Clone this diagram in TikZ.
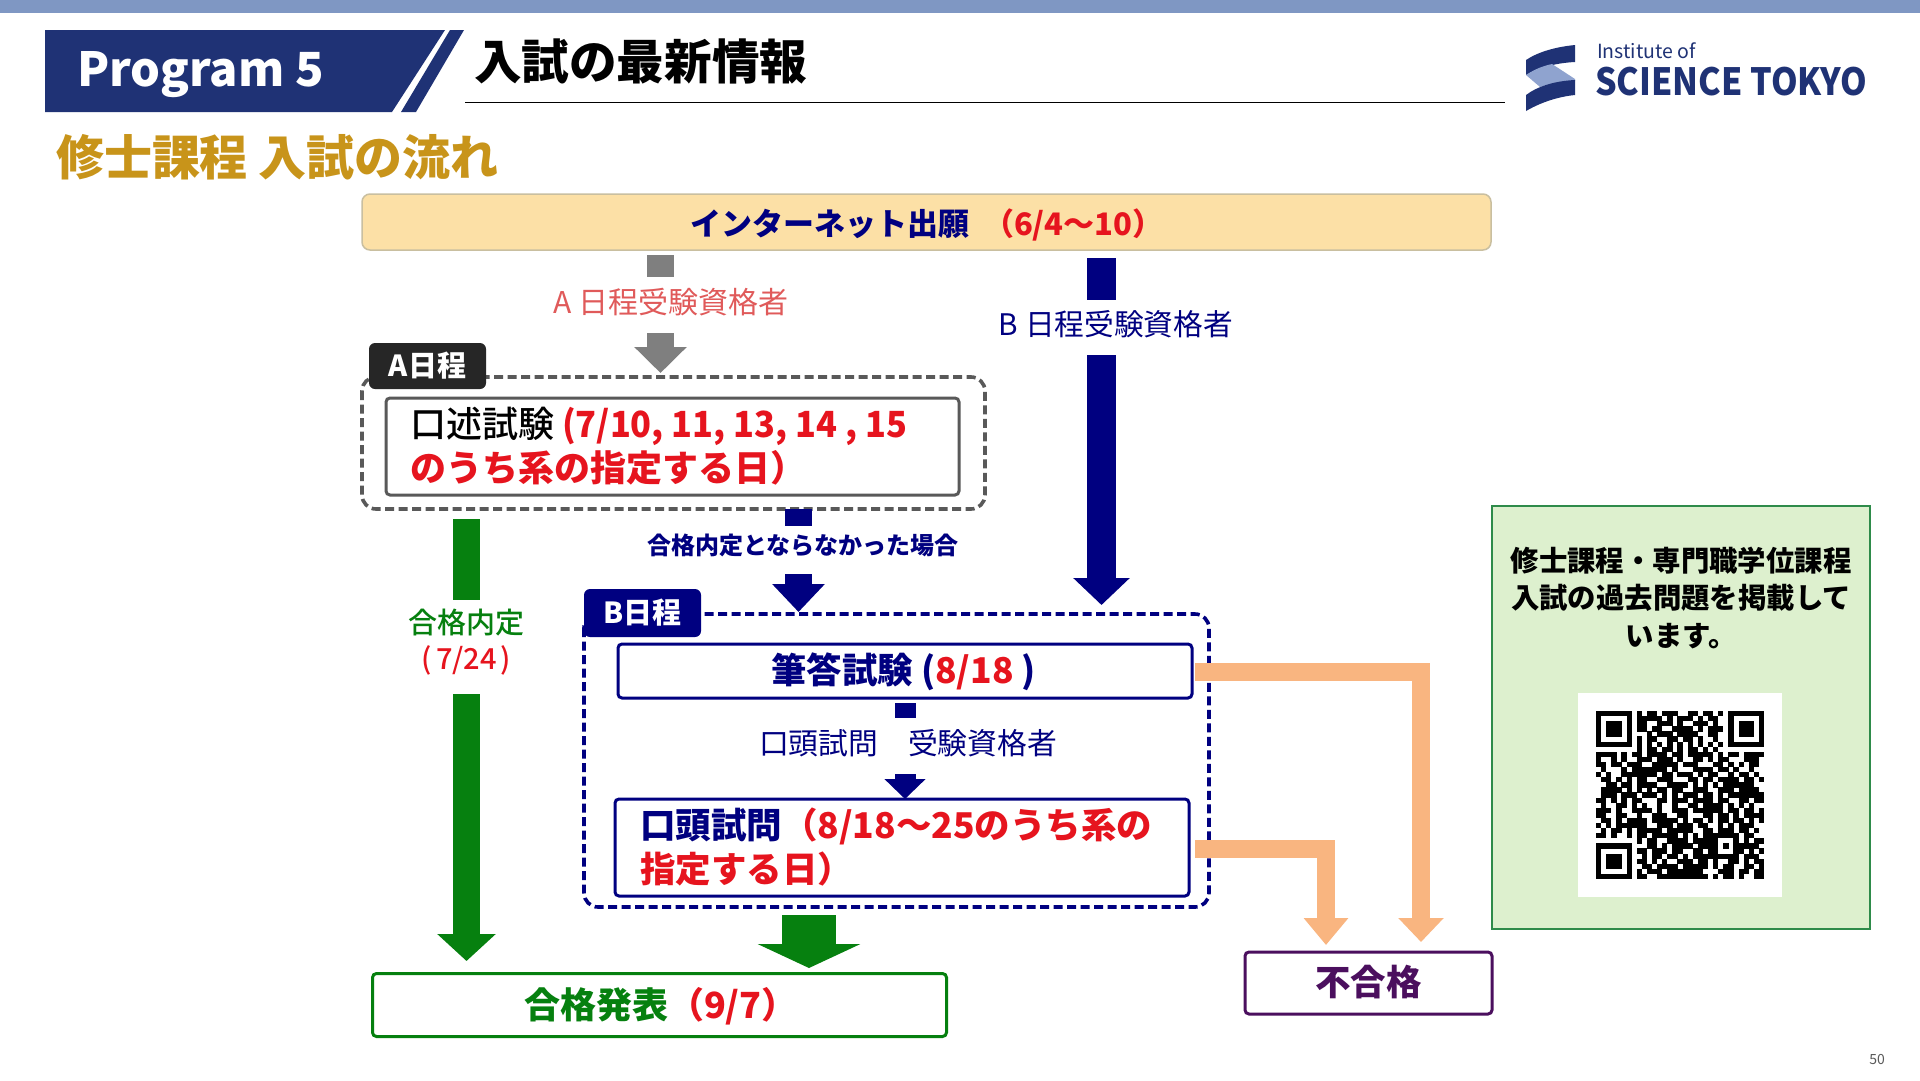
\documentclass[tikz,border=0pt]{standalone}
\usepackage{fontspec}
\usetikzlibrary{arrows.meta}
\setmainfont{Noto Sans CJK JP}
\newfontfamily\medf{Noto Sans CJK JP Medium}
\definecolor{navyc}{HTML}{000080}
\definecolor{redc}{HTML}{E6141E}
\definecolor{greenc}{HTML}{06800F}
\definecolor{grayc}{HTML}{7F7F7F}
\definecolor{dgray}{HTML}{595959}
\definecolor{orangec}{HTML}{F9B580}
\definecolor{purplec}{HTML}{4B0F5E}
\definecolor{bannerc}{HTML}{1F3275}
\definecolor{barc}{HTML}{7F97C3}
\definecolor{goldc}{HTML}{C8941A}
\definecolor{panelc}{HTML}{DDF0CE}
\definecolor{panelb}{HTML}{2E8B4A}
\definecolor{lightlogo}{HTML}{8FA3CF}
\definecolor{topfill}{HTML}{FCE0A6}
\definecolor{topline}{HTML}{C9BFA0}
\definecolor{tagblack}{HTML}{262626}
\definecolor{alabc}{HTML}{E05A5A}
\newcommand{\fs}[1]{\fontsize{#1}{#1}\selectfont}
\newcount\qrc \newcount\qrr
\def\qrscan#1{\ifx#1\relax\else\if#1x\fill[black] ({1596+\the\qrc*5.09},{711+\the\qrr*5.09}) rectangle +(5.3,5.3);\fi\global\advance\qrc by 1 \expandafter\qrscan\fi}
\def\qrrow#1{\global\qrc=0 \qrscan#1\relax\global\advance\qrr by 1 }
\tikzset{
  lbl/.style={inner sep=0pt,outer sep=0pt,anchor=base},
  lblw/.style={inner sep=0pt,outer sep=0pt,anchor=base west},
  boxnode/.style={draw,rounded corners=4pt,fill=white,inner sep=0pt,outer sep=0pt,line width=3pt},
  groupbox/.style={rounded corners=14pt,line width=3.6pt,dash pattern=on 9pt off 4.5pt,inner sep=0pt,outer sep=0pt},
  tagnode/.style={rounded corners=6pt,inner sep=0pt,outer sep=0pt,text=white,font=\bfseries\fs{29}},
  graybar/.style={line width=27pt,draw=grayc},
  navybar/.style={line width=27pt,draw=navyc},
  greenbar/.style={line width=27pt,draw=greenc},
  orangebar/.style={line width=18pt,draw=orangec,line join=miter},
}
\begin{document}
\begin{tikzpicture}[x=1pt,y=-1pt]
\useasboundingbox (0,0) rectangle (1920,1080);
\fill[white] (0,0) rectangle (1920,1080);
\fill[barc] (0,0) rectangle (1920,13);
% banner
\fill[bannerc] (45,30) -- (445,30) -- (392,112) -- (45,112) -- cycle;
\fill[bannerc] (450,30) -- (464,30) -- (416,112) -- (401,112) -- cycle;
\node[lblw,text=white,font=\bfseries\fs{47}] (prog) at (77,86) {Program 5};
\node[lblw,font=\bfseries\fs{47.6}] (title) at (474,79) {入試の最新情報};
\draw[line width=0.9pt] (465,102) -- (1505,102);
\node[lblw,text=goldc,font=\bfseries\fs{48}] (sub) at (56,175) {修士課程 入試の流れ};
% logo
\fill[bannerc] (1575,45) .. controls (1555,47) and (1538,52) .. (1526,60) -- (1526,75) .. controls (1538,68) and (1555,63) .. (1575,62) -- cycle;
\fill[lightlogo] (1526,75) .. controls (1535,69) and (1543,66) .. (1552,64) -- (1575,79) -- (1575,81) .. controls (1560,82) and (1548,84) .. (1540,87) -- cycle;
\fill[bannerc] (1575,80) .. controls (1555,81) and (1538,86) .. (1526,95) -- (1526,111) .. controls (1538,104) and (1555,97) .. (1575,95) -- cycle;
\node[lblw,text=bannerc,font=\fs{19.5}] (inst) at (1597,58) {Institute of};
\node[lblw,text=bannerc,font=\bfseries\fs{37.5}] (sci) at (1595,95) {\scalebox{0.906}[1]{SCIENCE TOKYO}};
\node[lbl,text=dgray,font=\fs{14}] (pg) at (1877,1064) {50};
% top box
\node[draw=topline,fill=topfill,line width=1.5pt,rounded corners=8pt,minimum width=1129pt,minimum height=56pt,inner sep=0pt,outer sep=0pt] (net) at (926.5,222) {};
\node[lblw,font=\bfseries\fs{31}] (nett) at (690,235) {\textcolor{navyc}{インターネット出願}\hspace{14pt}\textcolor{redc}{（6/4～10）}};
% A stage
\coordinate (a0) at (660.5,255);
\coordinate (a1) at (660.5,277);
\coordinate (a2) at (660.5,333);
\coordinate (a3) at (660.5,373);
\draw[graybar] (a0) -- (a1);
\node[lbl,text=alabc,font=\fs{30}] (alab) at (671,313) {A 日程受験資格者};
\draw[graybar,-{Triangle[width=51pt,length=26pt]}] (a2) -- (a3);
\draw[groupbox,draw=dgray,fill=white] (362,377) rectangle (985,509);
\node[boxnode,draw=dgray,minimum width=573pt,minimum height=97pt] (oral) at (672.5,446.5) {};
\node[lblw,font=\medf\fs{36}] (o1) at (410,437) {口述試験 \textcolor{redc}{\bfseries\scalebox{0.955}[1]{(7/10, 11, 13, 14 , 15}}};
\node[lblw,text=redc,font=\bfseries\fs{36}] (o2) at (410,481) {のうち系の指定する日）};
\node[tagnode,fill=tagblack,minimum width=117pt,minimum height=46pt] (atag) at (427.5,366) {A日程};
% A -> B navy
\coordinate (n0) at (798.5,509);
\coordinate (n1) at (798.5,526);
\coordinate (n2) at (798.5,574);
\coordinate (n3) at (798.5,612);
\draw[navybar] (n0) -- (n1);
\node[lbl,text=navyc,font=\bfseries\fs{24}] (nlab) at (803,554) {合格内定とならなかった場合};
\draw[navybar,-{Triangle[width=51pt,length=28pt]}] (n2) -- (n3);
% B right
\coordinate (b0) at (1101.5,258);
\coordinate (b1) at (1101.5,300);
\coordinate (b2) at (1101.5,355);
\coordinate (b3) at (1101.5,605);
\draw[navybar,line width=29pt] (b0) -- (b1);
\node[lbl,text=navyc,font=\fs{29.7}] (blab) at (1116,335) {B 日程受験資格者};
\draw[navybar,line width=29pt,-{Triangle[width=55pt,length=27pt]}] (b2) -- (b3);
% green left
\coordinate (g0) at (466.5,519);
\coordinate (g1) at (466.5,600);
\coordinate (g2) at (466.5,694);
\coordinate (g3) at (466.5,961);
\draw[greenbar] (g0) -- (g1);
\node[lbl,text=greenc,font=\medf\fs{29}] (glab) at (466.5,633) {合格内定};
\node[lbl,text=redc,font=\medf\fs{29}] (glab2) at (466.5,669) {(\hspace{4pt}7/24\hspace{4pt})};
\draw[greenbar,-{Triangle[width=57pt,length=27pt]}] (g2) -- (g3);
% B group
\draw[groupbox,draw=navyc] (584,614) rectangle (1209,907);
\node[boxnode,draw=navyc,minimum width=574pt,minimum height=54pt] (write) at (905,671) {};
\node[lblw,text=navyc,font=\bfseries\fs{35.5}] (wt) at (771,683) {筆答試験 (\textcolor{redc}{8/18} )};
\node[boxnode,draw=navyc,minimum width=574pt,minimum height=97pt] (oq) at (902,847.5) {};
\node[lblw,font=\medf\fs{35.5}] (q1) at (640,838) {\textcolor{navyc}{\bfseries 口頭試問}\textcolor{redc}{\bfseries（8/18～25のうち系の}};
\node[lblw,text=redc,font=\bfseries\fs{35.5}] (q2) at (640,882) {指定する日）};
\node[tagnode,fill=navyc,minimum width=117pt,minimum height=48pt] (btag) at (642.5,613) {B日程};
\coordinate (m0) at (905,703);
\coordinate (m1) at (905,718);
\coordinate (m2) at (905,774);
\draw[navybar,line width=21pt] (m0) -- (m1);
\node[lbl,text=navyc,font=\fs{29.8}] (mlab) at (908,754) {口頭試問　受験資格者};
\draw[navybar,line width=21pt,-{Triangle[width=40pt,length=20pt]}] (m2) -- (m2 |- oq.north);
% green result
\node[boxnode,draw=greenc,minimum width=574pt,minimum height=63pt] (res) at (659.5,1005) {};
\node[lblw,font=\bfseries\fs{36}] (rest) at (524,1018) {\textcolor{greenc}{合格発表}\textcolor{redc}{（9/7）}};
\coordinate (r0) at (809,915);
\coordinate (r1) at (809,968);
\draw[greenbar,line width=54pt,-{Triangle[width=102pt,length=24pt]}] (r0) -- (r1);
% fail
\node[boxnode,draw=purplec,minimum width=247pt,minimum height=62pt] (fail) at (1368.5,983) {};
\node[lbl,text=purplec,font=\bfseries\fs{35.5}] (failt) at (1368.5,995) {不合格};
\coordinate (f0) at (1195,672);
\coordinate (f1) at (1421,672);
\coordinate (f2) at (1421,942);
\draw[orangebar,-{Triangle[width=44pt,length=24pt]}] (f0) -- (f1) -- (f2);
\coordinate (e0) at (1195,849);
\coordinate (e1) at (1326,849);
\coordinate (e2) at (1326,945);
\draw[orangebar,-{Triangle[width=43pt,length=27pt]}] (e0) -- (e1) -- (e2);
% panel
\draw[fill=panelc,draw=panelb,line width=2.6pt] (1492,506) rectangle (1870,929);
\node[lbl,font=\bfseries\fs{28.4}] (p1) at (1681,571) {修士課程・専門職学位課程};
\node[lbl,font=\bfseries\fs{28.4}] (p2) at (1681,608) {入試の過去問題を掲載して};
\node[lbl,font=\bfseries\fs{28.4}] (p3) at (1681,646) {います。};
\fill[white] (1578,693) rectangle (1782,897);
% QR
\qrrow{xxxxxxx.x.xx.xxx..xx.xx.x.xxxxxxx}
\qrrow{x.....x.xxxxx.x.xxx.x.xx..x.....x}
\qrrow{x.xxx.x.xx..xxx.x..xxx.x..x.xxx.x}
\qrrow{x.xxx.x.xx.xx..xxxx.x.xxx.x.xxx.x}
\qrrow{x.xxx.x...x.xxx.xxxx..xx..x.xxx.x}
\qrrow{x.....x.x.xx..xx.xx.x..x..x.....x}
\qrrow{xxxxxxx.x.x.x.x.x.x.x.x.x.xxxxxxx}
\qrrow{........x.xx.xx.x.xx.x.x.........}
\qrrow{xxxx.x.xx.xxxx.xx.xxxxx.x.xx.xxxx}
\qrrow{x..x.x..xxx.xxx.x..xx.x.xx...xxx.}
\qrrow{xx.xx.xxx..xxxxx.xxx...xx.x.x.xx.}
\qrrow{.x...x.xxxxxxx.x...xxxx.xx.x..x..}
\qrrow{x.x..xxxxxxx.xx.xxx.x.xx..x.xx.x.}
\qrrow{.xx.x.x.xx..xxx...xx.xx.xxxx.xx.x}
\qrrow{..xx.xx.xxxx..xxxx.x.x.x.xxxxxx..}
\qrrow{.xxxx.x.x.x.xx.xx..xxx..xxx.xxxx.}
\qrrow{.xxx.xxx.xxx.x.x.xxx.xx.x.xxxxxxx}
\qrrow{xx.x.x.xx...xx.xxx.xxxx.xx..xx.xx}
\qrrow{.x..xx.x.x..x..x..xx.xxxx.x.x.x..}
\qrrow{xxx.x..xxxx.x..xxx.xxxxxx.xx.xx.x}
\qrrow{xx..xx..x..xxx..xx...xx.xx.x.xxxx}
\qrrow{.xx.x.xxxx.xxxxx.x.xx.x.xx.xx.x.x}
\qrrow{x.x.xxxxxx..xxx.xxx.xx..x.x.xxx..}
\qrrow{.x.xx.x.xxxxx.xxxxx..xx.xxx.xx.x.}
\qrrow{xx.x..x.xx.xxxxx.x.x.xxxxxxx.xx..}
\qrrow{........x.xx..xxxx.xxxxx...x.x.xx}
\qrrow{xxxxxxx...xx.x.xxxx.xxxx.x.xxxxx.}
\qrrow{x.....x.xx.xxx.xx..xx.xx...xx.x.x}
\qrrow{x.xxx.x..x.xx.xx.x.xxxxxxxxx.xxx.}
\qrrow{x.xxx.x.xx.x.x..xxx.xx.x..xx.x.xx}
\qrrow{x.xxx.x..xx.xxxx.xxxxx.x.xx..xx.x}
\qrrow{x.....x.x.xxx.xxxxxxx...xxx.xx.xx}
\qrrow{xxxxxxx.xx..xxxxxxxxxx.x.xx.x..xx}
\end{tikzpicture}
\end{document}
